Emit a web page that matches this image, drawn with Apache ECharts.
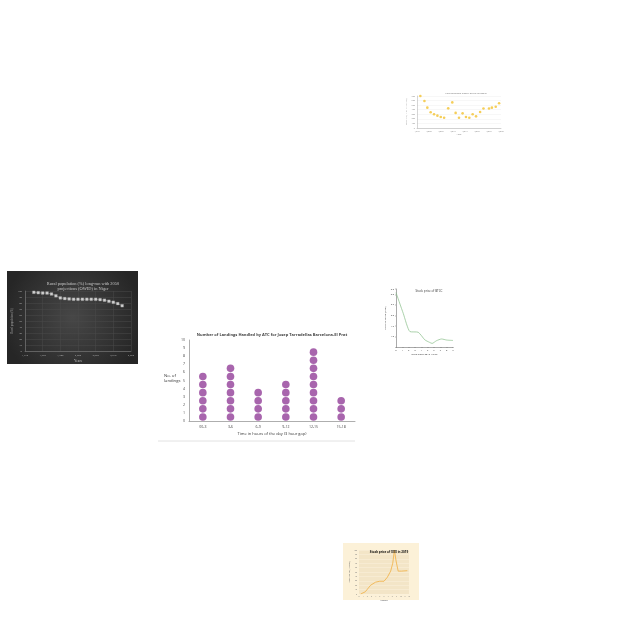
<!DOCTYPE html>
<html><head><meta charset="utf-8">
<script src="https://cdn.jsdelivr.net/npm/echarts@6/dist/echarts.min.js"></script>
<style>html,body{margin:0;padding:0;background:#fff}#c{width:640px;height:640px}</style>
</head><body><div id="c"></div>
<script>
// ---- main chart: landings dot plot ----
const hourSlots = ['00-3','3-6','6-9','9-12','12-15','15-18'];
const landings = [6, 7, 4, 5, 9, 3];

// ---- top-right: yellow scatter ----
const co2Years = [1996.4,1998.1,1999.3,2000.7,2002.1,2003.5,2004.9,2006.3,2008.0,2009.7,2011.1,2012.5,2014.0,2015.4,2016.8,2018.2,2019.6,2021.3,2022.7,2025.0,2026.2,2027.8,2029.2];
const co2Values = [700,590,445,345,300,270,240,225,430,560,330,225,320,240,225,300,255,350,425,425,445,465,540];

// ---- left dark: Niger rural population ----
const nigerYears = [1950,1955,1960,1965,1970,1975,1980,1985,1990,1995,2000,2005,2010,2015,2020,2025,2030,2035,2040,2045,2050];
const nigerRural = [97.8,97.2,96.6,96.6,95,92,88.5,87.4,86.8,86.2,86.2,86.2,86.2,86.2,86.2,85.6,84.6,82.9,81.2,79,75.5];

// ---- right middle: BTCC stock ----
const btccDays = [0, 1.15, 2.2, 3.5, 4.55, 5.3, 5.7, 6.4, 7.2, 8.0, 9.0];
const btccPrice = [3.08, 2.09, 1.23, 1.2, 0.84, 0.72, 0.67, 0.8, 0.88, 0.83, 0.81];

// ---- bottom: beige stock chart ----
const stockMonths = [0.4, 1.5, 2.8, 4.0, 5.0, 6.0, 6.8, 7.6, 8.1, 8.5, 8.9, 9.4, 10.2, 11.6];
const stockPrice = [0, 5, 20, 27, 29, 29, 38, 52, 70, 100, 75, 52, 52, 53];

const dots = [];
landings.forEach((v, i) => { for (let k = 0; k < v; k++) dots.push([i, k + 0.5]); });

const chart = echarts.init(document.getElementById('c'), null, {renderer: 'canvas'});
const sans = 'Open Sans';
chart.setOption({
  animation: false,
  backgroundColor: '#fff',
  graphic: [
    {type: 'rect', z: -10, shape: {x: 7, y: 271, width: 131, height: 93},
     style: {fill: {type: 'radial', x: 0.5, y: 0.5, r: 0.75,
       colorStops: [{offset: 0, color: '#474747'}, {offset: 1, color: '#262626'}]}}},
    {type: 'rect', z: -10, shape: {x: 343, y: 543, width: 76, height: 57}, style: {fill: '#fcf1d8'}},
    {type: 'line', z: -10, shape: {x1: 158, y1: 441, x2: 355, y2: 441}, style: {stroke: '#e2e2e2', lineWidth: 1}},
    {type: 'text', left: 164, top: 373, z: 5,
     style: {text: 'No. of\nlandings', fill: '#333', font: '4.2px "Open Sans"', align: 'center', lineHeight: 5.5, width: 24}}
  ],
  title: [
    {text: 'Number of Landings Handled by ATC for Josep Tarradellas Barcelona-El Prat', left: 267, top: 328, textAlign: 'center',
     textStyle: {fontSize: 4, fontWeight: 'bold', color: '#444', fontFamily: sans}},
    {text: 'CO2 Emissions history of the Caucasus', left: 461, top: 87.5, textAlign: 'center',
     textStyle: {fontSize: 2.3, fontWeight: 'normal', color: '#777', fontFamily: sans}},
    {text: 'Rural population (%) long-run with 2050\nprojections (OWID) in Niger', left: 78, top: 276, textAlign: 'center',
     textStyle: {fontSize: 4.4, fontWeight: 'normal', color: '#c8c8c8', fontFamily: 'Liberation Serif', lineHeight: 5.5}},
    {text: 'Stock price of BTCC', left: 424, top: 284.5, textAlign: 'center',
     textStyle: {fontSize: 3, fontWeight: 'normal', color: '#333', fontFamily: sans}},
    {text: 'Stock price of XXX in 2019', left: 384, top: 545.5, textAlign: 'center',
     textStyle: {fontSize: 3, fontWeight: 'bold', color: '#111', fontFamily: sans}}
  ],
  grid: [
    {left: 189, right: 285, top: 340, bottom: 219},
    {left: 417, right: 139, top: 96, bottom: 512},
    {left: 25, right: 509, top: 291, bottom: 289},
    {left: 396, right: 187, top: 289, bottom: 293},
    {left: 359, right: 231, top: 550, bottom: 46, show: true, backgroundColor: '#f3e5c7', borderWidth: 0}
  ],
  xAxis: [
    {gridIndex: 0, type: 'category', data: hourSlots, boundaryGap: true,
     name: 'Time in hours of the day (3 hour gap)', nameLocation: 'middle', nameGap: 11,
     nameTextStyle: {fontSize: 4, color: '#333', fontFamily: sans},
     axisLine: {lineStyle: {color: '#999', width: 0.8}}, axisTick: {show: false},
     axisLabel: {fontSize: 3.5, color: '#444', margin: 4, fontFamily: sans}},
    {gridIndex: 1, type: 'value', min: 1995, max: 2030, interval: 5,
     name: 'Year', nameLocation: 'middle', nameGap: 5, nameTextStyle: {fontSize: 2.3, color: '#777', fontFamily: sans},
     axisLine: {lineStyle: {color: '#aaa', width: 0.5}}, axisTick: {show: false}, splitLine: {show: false},
     axisLabel: {fontSize: 2, color: '#888', margin: 2, fontFamily: sans}},
    {gridIndex: 2, type: 'value', min: 1940, max: 2060, interval: 20,
     name: 'Years', nameLocation: 'middle', nameGap: 8, nameTextStyle: {fontSize: 3.5, color: '#bbb', fontFamily: 'Liberation Serif'},
     axisLine: {lineStyle: {color: '#888', width: 0.5}}, axisTick: {show: false},
     splitLine: {show: true, lineStyle: {color: '#4a4a4a', width: 0.5}},
     axisLabel: {fontSize: 2.5, color: '#aaa', margin: 2.5, fontFamily: sans}},
    {gridIndex: 3, type: 'value', min: 0, max: 9, interval: 1,
     name: 'Days since 2019-10-06', nameLocation: 'middle', nameGap: 6, nameTextStyle: {fontSize: 2.5, color: '#333', fontFamily: sans},
     axisLine: {lineStyle: {color: '#555', width: 0.5}}, axisTick: {show: true, length: 1, lineStyle: {color: '#555', width: 0.4}},
     splitLine: {show: false},
     axisLabel: {fontSize: 2.3, color: '#333', margin: 2, fontFamily: sans}},
    {gridIndex: 4, type: 'value', min: 0, max: 12, interval: 1,
     name: 'Month', nameLocation: 'middle', nameGap: 5, nameTextStyle: {fontSize: 2.5, color: '#444', fontFamily: sans},
     axisLine: {show: false}, axisTick: {show: false}, splitLine: {show: false},
     axisLabel: {fontSize: 1.8, color: '#777', margin: 1.5, fontFamily: sans}}
  ],
  yAxis: [
    {gridIndex: 0, type: 'value', min: 0, max: 10, interval: 1,
     axisLine: {show: true, lineStyle: {color: '#999', width: 0.8}}, axisTick: {show: false}, splitLine: {show: false},
     axisLabel: {fontSize: 3.5, color: '#444', margin: 4, fontFamily: sans}},
    {gridIndex: 1, type: 'value', min: 0, max: 700, interval: 100,
     name: 'Emissions (in million tonnes)', nameLocation: 'middle', nameGap: 6, nameTextStyle: {fontSize: 2, color: '#888', fontFamily: sans},
     axisLine: {show: true, lineStyle: {color: '#aaa', width: 0.5}}, axisTick: {show: false},
     splitLine: {show: true, lineStyle: {color: '#eee', width: 0.5}},
     axisLabel: {fontSize: 2, color: '#888', margin: 2, fontFamily: sans}},
    {gridIndex: 2, type: 'value', min: 0, max: 100, interval: 10,
     name: 'Rural population (%)', nameLocation: 'middle', nameGap: 10, nameTextStyle: {fontSize: 3, color: '#999', fontFamily: 'Liberation Serif'},
     axisLine: {show: true, lineStyle: {color: '#888', width: 0.5}}, axisTick: {show: false},
     splitLine: {show: true, lineStyle: {color: '#4a4a4a', width: 0.5}},
     axisLabel: {fontSize: 2.5, color: '#aaa', margin: 3, fontFamily: sans}},
    {gridIndex: 3, type: 'value', min: 0.5, max: 3.25, interval: 0.5,
     name: 'Price of Stock (USD)', nameLocation: 'middle', nameGap: 7, nameTextStyle: {fontSize: 2.5, color: '#333', fontFamily: sans},
     axisLine: {show: true, lineStyle: {color: '#555', width: 0.5}}, axisTick: {show: true, length: 1, lineStyle: {color: '#555', width: 0.4}},
     splitLine: {show: false},
     axisLabel: {fontSize: 2.3, color: '#333', margin: 2, showMinLabel: false, fontFamily: sans,
       formatter: v => v.toFixed(1)}},
    {gridIndex: 4, type: 'value', min: 0, max: 100, interval: 10,
     name: 'Stock price (in USD)', nameLocation: 'middle', nameGap: 8, nameTextStyle: {fontSize: 2.3, color: '#555', fontFamily: sans},
     axisLine: {show: false}, axisTick: {show: false},
     splitLine: {show: true, lineStyle: {color: '#fbf1dc', width: 0.5}},
     axisLabel: {fontSize: 1.8, color: '#777', margin: 2, fontFamily: sans}}
  ],
  series: [
    {type: 'scatter', xAxisIndex: 0, yAxisIndex: 0, data: dots, symbolSize: 7.6,
     itemStyle: {color: '#923f99'}},
    {type: 'scatter', xAxisIndex: 1, yAxisIndex: 1, data: co2Years.map((y, i) => [y, co2Values[i]]), symbolSize: 2.6,
     itemStyle: {color: '#f3c22f'}},
    {type: 'line', xAxisIndex: 2, yAxisIndex: 2, data: nigerYears.map((y, i) => [y, nigerRural[i]]),
     symbol: 'rect', symbolSize: 2.8, showSymbol: true,
     lineStyle: {color: '#9a9a9a', width: 0.6}, itemStyle: {color: '#d0d0d0', borderColor: '#888', borderWidth: 0.3}},
    {type: 'line', xAxisIndex: 3, yAxisIndex: 3, data: btccDays.map((d, i) => [d, btccPrice[i]]),
     showSymbol: false, smooth: 0.2, lineStyle: {color: '#86bd86', width: 0.7}},
    {type: 'line', xAxisIndex: 4, yAxisIndex: 4, data: stockMonths.map((m, i) => [m, stockPrice[i]]),
     showSymbol: false, lineStyle: {color: '#f2b650', width: 0.9}}
  ]
});
</script></body></html>
